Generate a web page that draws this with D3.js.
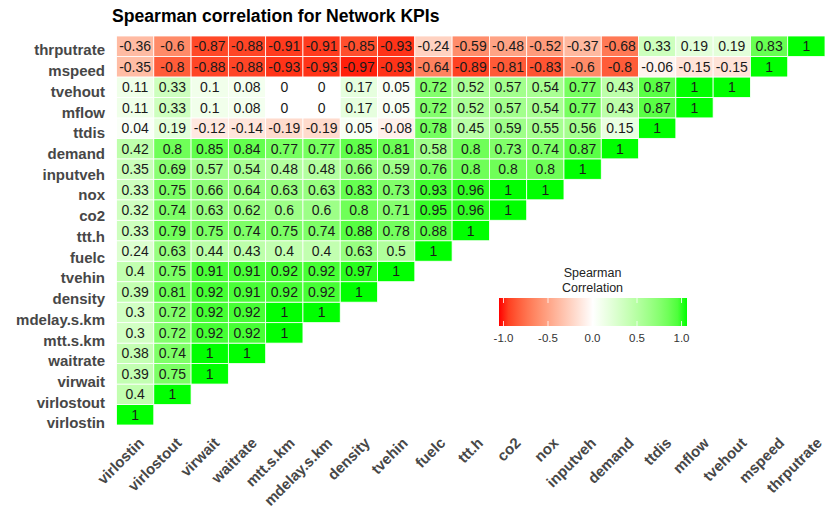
<!DOCTYPE html>
<html>
<head>
<meta charset="utf-8">
<script src="https://cdn.jsdelivr.net/npm/d3@7"></script>
<style>
  body { margin: 0; background: #fff; }
  text { font-family: "Liberation Sans", Arial, sans-serif; }
</style>
</head>
<body>
<script>
// variables, left to right on the x axis (rows are the same list, reversed)
var vars = ["virlostin", "virlostout", "virwait", "waitrate", "mtt.s.km", "mdelay.s.km",
  "density", "tvehin", "fuelc", "ttt.h", "co2", "nox", "inputveh", "demand",
  "ttdis", "mflow", "tvehout", "mspeed", "thrputrate"];

// lower triangle, one row per variable, values against vars[0..i]
var thrputrate = [-0.36, -0.6, -0.87, -0.88, -0.91, -0.91, -0.85, -0.93, -0.24, -0.59, -0.48, -0.52, -0.37, -0.68, 0.33, 0.19, 0.19, 0.83, 1];
var mspeed = [-0.35, -0.8, -0.88, -0.88, -0.93, -0.93, -0.97, -0.93, -0.64, -0.89, -0.81, -0.83, -0.6, -0.8, -0.06, -0.15, -0.15, 1];
var tvehout = [0.11, 0.33, 0.1, 0.08, 0, 0, 0.17, 0.05, 0.72, 0.52, 0.57, 0.54, 0.77, 0.43, 0.87, 1, 1];
var mflow = [0.11, 0.33, 0.1, 0.08, 0, 0, 0.17, 0.05, 0.72, 0.52, 0.57, 0.54, 0.77, 0.43, 0.87, 1];
var ttdis = [0.04, 0.19, -0.12, -0.14, -0.19, -0.19, 0.05, -0.08, 0.78, 0.45, 0.59, 0.55, 0.56, 0.15, 1];
var demand = [0.42, 0.8, 0.85, 0.84, 0.77, 0.77, 0.85, 0.81, 0.58, 0.8, 0.73, 0.74, 0.87, 1];
var inputveh = [0.35, 0.69, 0.57, 0.54, 0.48, 0.48, 0.66, 0.59, 0.76, 0.8, 0.8, 0.8, 1];
var nox = [0.33, 0.75, 0.66, 0.64, 0.63, 0.63, 0.83, 0.73, 0.93, 0.96, 1, 1];
var co2 = [0.32, 0.74, 0.63, 0.62, 0.6, 0.6, 0.8, 0.71, 0.95, 0.96, 1];
var ttth = [0.33, 0.79, 0.75, 0.74, 0.75, 0.74, 0.88, 0.78, 0.88, 1];
var fuelc = [0.24, 0.63, 0.44, 0.43, 0.4, 0.4, 0.63, 0.5, 1];
var tvehin = [0.4, 0.75, 0.91, 0.91, 0.92, 0.92, 0.97, 1];
var density = [0.39, 0.81, 0.92, 0.91, 0.92, 0.92, 1];
var mdelay = [0.3, 0.72, 0.92, 0.92, 1, 1];
var mtt = [0.3, 0.72, 0.92, 0.92, 1];
var waitrate = [0.38, 0.74, 1, 1];
var virwait = [0.39, 0.75, 1];
var virlostout = [0.4, 1];
var virlostin = [1];

var rowValues = [virlostin, virlostout, virwait, waitrate, mtt, mdelay, density, tvehin,
  fuelc, ttth, co2, nox, inputveh, demand, ttdis, mflow, tvehout, mspeed, thrputrate];

var legendTicks = [-1, -0.5, 0, 0.5, 1];

var width = 827, height = 513;

var svg = d3.select("body").append("svg")
  .attr("width", width)
  .attr("height", height);

var cells = [];
rowValues.forEach(function (vals, i) {
  vals.forEach(function (v, j) {
    cells.push({ row: vars[i], col: vars[j], value: v });
  });
});

var x = d3.scaleBand().domain(vars).range([116.5, 825]);
var y = d3.scaleBand().domain(vars.slice().reverse()).range([36, 425]);
// the labels in the picture are spread a little wider than the cells
var yLab = d3.scalePoint().domain(vars.slice().reverse()).range([50, 423]);
var xLab = d3.scalePoint().domain(vars).range([137, 815]);

var color = d3.scaleLinear()
  .domain([-1, 0, 1])
  .range(["#ff0000", "#ffffff", "#00ff00"])
  .interpolate(d3.interpolateLab);

svg.append("text")
  .attr("x", 112)
  .attr("y", 22)
  .text("Spearman correlation for Network KPIs")
  .style("font-weight", "bold")
  .style("font-size", "17.6px")
  .style("fill", "#000");

svg.append("g").selectAll("rect")
  .data(cells)
  .enter().append("rect")
  .attr("x", function (d) { return x(d.col); })
  .attr("y", function (d) { return y(d.row); })
  .attr("width", x.bandwidth())
  .attr("height", y.bandwidth())
  .style("fill", function (d) { return color(d.value); })
  .style("stroke", "#fff")
  .style("stroke-width", 0.8);

svg.append("g").selectAll("text")
  .data(cells)
  .enter().append("text")
  .attr("x", function (d) { return x(d.col) + x.bandwidth() / 2; })
  .attr("y", function (d) { return y(d.row) + y.bandwidth() / 2; })
  .attr("dy", "0.36em")
  .attr("text-anchor", "middle")
  .text(function (d) { return d.value; })
  .style("font-size", "14px")
  .style("fill", "#1a1a1a");

// y labels
svg.append("g").selectAll("text")
  .data(vars)
  .enter().append("text")
  .attr("x", 105)
  .attr("y", function (d) { return yLab(d); })
  .attr("dy", "0.36em")
  .attr("text-anchor", "end")
  .text(function (d) { return d; })
  .style("font-weight", "bold")
  .style("font-size", "15px")
  .style("fill", "#474747");

// x labels, rotated
svg.append("g").selectAll("text")
  .data(vars)
  .enter().append("text")
  .attr("transform", function (d) {
    return "translate(" + xLab(d) + ",436) rotate(-45)";
  })
  .attr("dy", "0.75em")
  .attr("text-anchor", "end")
  .text(function (d) { return d; })
  .style("font-weight", "bold")
  .style("font-size", "15px")
  .style("fill", "#474747");

// legend
var lx = d3.scaleLinear().domain([-1, 1]).range([503.5, 681.5]);
var legend = svg.append("g");

var grad = svg.append("defs").append("linearGradient")
  .attr("id", "grad")
  .attr("x1", "0%").attr("x2", "100%");
d3.range(0, 21).forEach(function (k) {
  grad.append("stop")
    .attr("offset", (k * 5) + "%")
    .attr("stop-color", color(-1 + k / 10));
});

legend.append("text")
  .attr("x", 592.5)
  .attr("y", 277)
  .attr("text-anchor", "middle")
  .text("Spearman")
  .style("font-size", "12.5px")
  .style("fill", "#222");
legend.append("text")
  .attr("x", 592.5)
  .attr("y", 292)
  .attr("text-anchor", "middle")
  .text("Correlation")
  .style("font-size", "12.5px")
  .style("fill", "#222");

legend.append("rect")
  .attr("x", 499)
  .attr("y", 298)
  .attr("width", 188)
  .attr("height", 28)
  .style("fill", "url(#grad)");

legendTicks.forEach(function (t) {
  legend.append("line")
    .attr("x1", lx(t)).attr("x2", lx(t))
    .attr("y1", 298).attr("y2", 303)
    .style("stroke", "#fff").style("stroke-width", 0.8);
  legend.append("line")
    .attr("x1", lx(t)).attr("x2", lx(t))
    .attr("y1", 321).attr("y2", 326)
    .style("stroke", "#fff").style("stroke-width", 0.8);
});

legend.selectAll(".tick")
  .data(legendTicks)
  .enter().append("text")
  .attr("x", function (d) { return lx(d); })
  .attr("y", 342)
  .attr("text-anchor", "middle")
  .text(function (d) { return d.toFixed(1); })
  .style("font-size", "11.5px")
  .style("fill", "#333");
</script>
</body>
</html>
